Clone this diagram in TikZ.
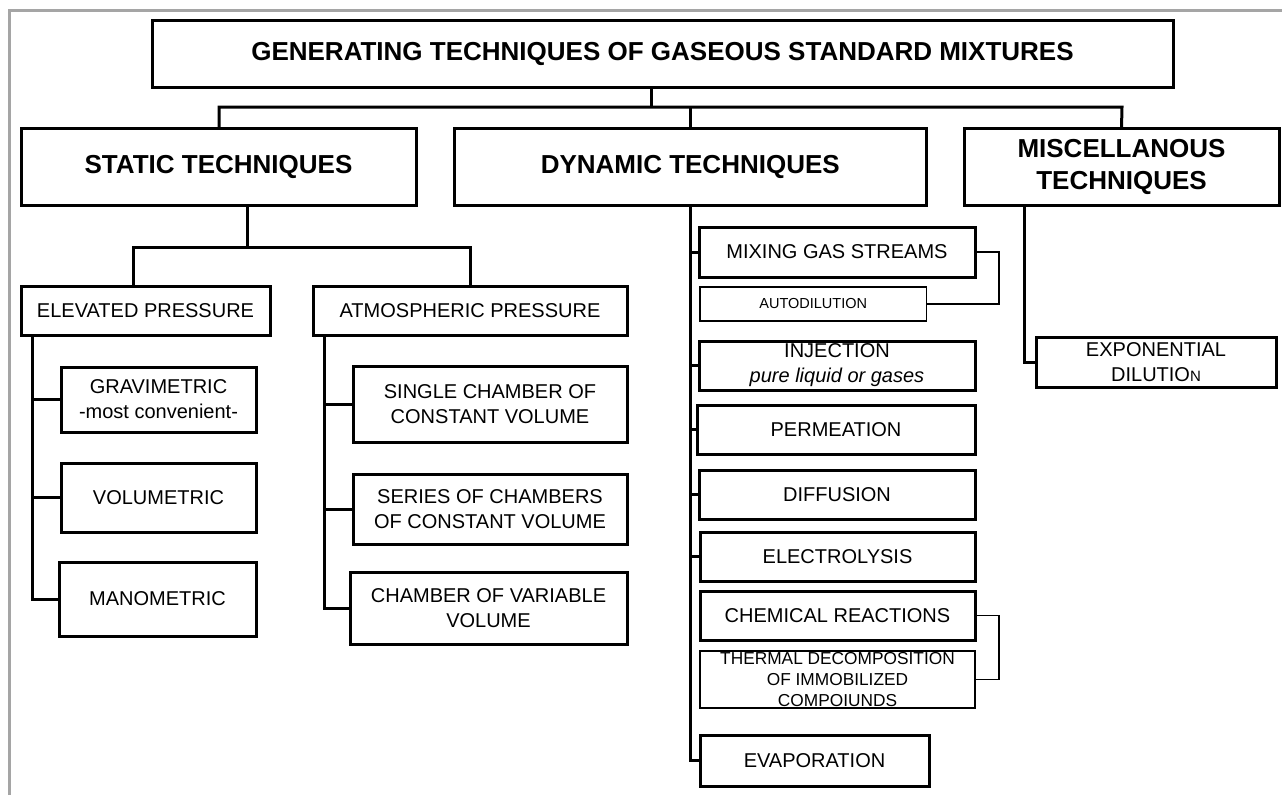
\documentclass[tikz,border=0pt]{standalone}
\usepackage{fontspec}
\setmainfont{Liberation Sans}
\newcommand\bigtext{\bfseries\fontsize{26}{32}\selectfont}
\newcommand\normtext{\fontsize{20}{25}\selectfont}
\newcommand\smalltext{\fontsize{14.5}{17}\selectfont}
\newcommand\thermtext{\fontsize{17.3}{21}\selectfont}
\tikzset{
  box/.style={draw, line width=3pt, inner sep=0pt, outer sep=0pt, align=center, font=\normtext},
  thinbox/.style={box, line width=1.5pt},
  conn/.style={line width=3pt},
  thinconn/.style={line width=1.5pt},
  frame/.style={line width=3pt, draw={rgb,255:red,165;green,165;blue,165}},
}
\newcommand\mkbox[7][]{\node[box,#1,minimum width={(#5-#3)*1pt},minimum height={(#6-#4)*1pt}] (#2) at ({(#3+#5)/2},{(#4+#6)/2}) {#7};}
\begin{document}
\begin{tikzpicture}[x=1pt,y=-1pt]
\useasboundingbox (0,0) rectangle (1282,795);
\draw[frame] (9,795) -- (9,10) -- (1282,10);

\mkbox[font=\bigtext]{title}{152}{20}{1173}{87}{GENERATING TECHNIQUES OF GASEOUS STANDARD MIXTURES}
\mkbox[font=\bigtext]{static}{21}{128}{416}{205}{STATIC TECHNIQUES}
\mkbox[font=\bigtext]{dyn}{454}{128}{926.5}{205}{DYNAMIC TECHNIQUES}
\mkbox[font=\bigtext]{misc}{964}{128}{1279}{205}{MISCELLANOUS\\TECHNIQUES}
\mkbox{elev}{21}{286}{270}{335}{ELEVATED PRESSURE}
\mkbox{atm}{313}{286}{627}{335}{ATMOSPHERIC PRESSURE}
\mkbox{grav}{61}{367}{256}{432}{GRAVIMETRIC\\-most convenient-}
\mkbox{vol}{61}{463}{256}{532}{VOLUMETRIC}
\mkbox{man}{59}{562}{256}{636}{MANOMETRIC}
\mkbox{single}{353}{366}{627}{442}{SINGLE CHAMBER OF\\CONSTANT VOLUME}
\mkbox{series}{353}{474}{627}{544}{SERIES OF CHAMBERS\\OF CONSTANT VOLUME}
\mkbox{var}{350}{572}{627}{644}{CHAMBER OF VARIABLE\\VOLUME}
\mkbox{mix}{699}{227}{975}{277}{MIXING GAS STREAMS}
\mkbox[thinbox,font=\smalltext]{auto}{700}{287}{926.5}{321}{AUTODILUTION}
\mkbox{inj}{699}{341}{975}{390}{INJECTION\\\textit{pure liquid or gases}}
\mkbox{perm}{697}{405}{975}{454}{PERMEATION}
\mkbox{diff}{699}{470}{975}{519}{DIFFUSION}
\mkbox{elec}{700}{532}{975}{581}{ELECTROLYSIS}
\mkbox{chem}{700}{591}{975}{640}{CHEMICAL REACTIONS}
\mkbox[thinbox]{therm}{700}{651}{975}{708}{}
\node[font=\thermtext, align=center, inner sep=0pt] (thermtxt) at (therm.center) {THERMAL DECOMPOSITION\\OF IMMOBILIZED\\COMPOIUNDS};
\mkbox{evap}{700}{735}{929}{786}{EVAPORATION}
\mkbox{expo}{1036}{337}{1276}{387}{EXPONENTIAL\\DILUTIO{\fontsize{15}{15}\selectfont N}}

% junction coordinates
\coordinate (j0) at (651,107);
\coordinate (bL) at (219,107);
\coordinate (bR) at (1122,107);
\coordinate (s0) at (247,247);
\coordinate (sL) at (133.5,247);
\coordinate (sR) at (470,247);
\coordinate (ex) at (32.7,0);
\coordinate (ax) at (324.5,0);
\coordinate (mx) at (1024.5,0);

% top level
\draw[conn] (title.south -| j0) -- (j0);
\draw[conn] (static.north -| bL) -- (bL) -- (bR) -- (misc.north);
\draw[conn] (bL -| dyn.north) -- (dyn.north);

% static branch
\draw[conn] (static.south -| s0) -- (s0);
\draw[conn] (elev.north -| sL) -- (sL) -- (sR) -- (atm.north);

% elevated pressure spine
\draw[conn] (elev.south -| ex) |- (man.west);
\draw[conn] (ex |- grav.west) -- (grav.west);
\draw[conn] (ex |- vol.west) -- (vol.west);

% atmospheric pressure spine
\draw[conn] (atm.south -| ax) |- (var.west);
\draw[conn] (ax |- single.west) -- (single.west);
\draw[conn] (ax |- series.west) -- (series.west);

% dynamic spine
\draw[conn] (dyn.south) |- (evap.west);
\draw[conn] (dyn.south |- mix.west) -- (mix.west);
\draw[conn] (dyn.south |- inj.west) -- (inj.west);
\draw[conn] (dyn.south |- perm.west) -- (perm.west);
\draw[conn] (dyn.south |- diff.west) -- (diff.west);
\draw[conn] (dyn.south |- elec.west) -- (elec.west);

% brackets
\draw[thinconn] (mix.east) -- ++(24,0) |- (auto.east);
\draw[thinconn] (chem.east) -- ++(24,0) |- (therm.east);

% misc spine
\draw[conn] (misc.south -| mx) |- (expo.west);
\end{tikzpicture}
\end{document}
